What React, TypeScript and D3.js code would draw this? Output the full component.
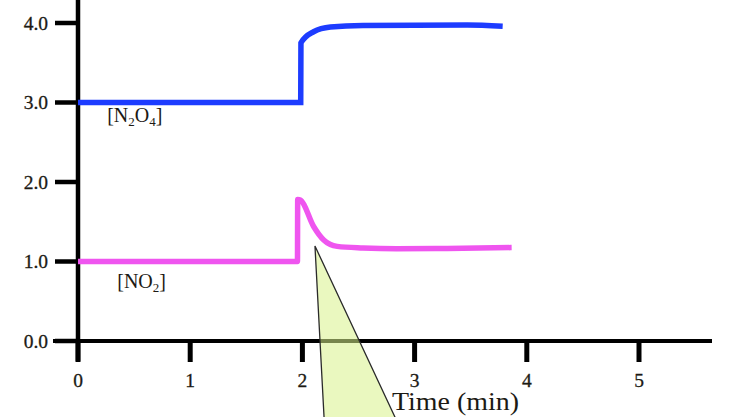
import React from "react";
import * as d3 from "d3";

const W = 741;
const H = 417;

// x ticks (minutes) and y ticks (concentration)
const xTicks = [0, 1, 2, 3, 4, 5];
const yTicks = [0, 1, 2, 3, 4];
const yTickLabels = ["0.0", "1.0", "2.0", "3.0", "4.0"];

// [N2O4] curve
const n2o4Time = [0, 1.985, 1.987, 2.1, 2.25, 2.54, 3.47, 3.785];
const n2o4Conc = [3.0, 3.0, 3.75, 3.89, 3.95, 3.97, 3.975, 3.96];

// [NO2] curve
const no2Time = [0, 1.956, 1.958, 1.985, 2.1, 2.19, 2.31, 2.54, 2.84, 3.29, 3.865];
const no2Conc = [1.0, 1.0, 1.78, 1.77, 1.44, 1.27, 1.19, 1.17, 1.16, 1.165, 1.175];

// annotation triangle (data coords)
const triTime = [2.112, 2.199, 2.879];
const triConc = [1.195, -1.12, -1.12];

const textColor = "#1c1a14";
const serif = "'Liberation Serif', 'DejaVu Serif', serif";

export default function App() {
  const x = d3.scaleLinear().domain([0, 5]).range([78, 639]);
  const y = d3.scaleLinear().domain([0, 4]).range([341, 23]);

  const line = d3
    .line<[number, number]>()
    .x((d) => x(d[0]))
    .y((d) => y(d[1]))
    .curve(d3.curveMonotoneX);

  const n2o4 = n2o4Time.map((t, i) => [t, n2o4Conc[i]] as [number, number]);
  const no2 = no2Time.map((t, i) => [t, no2Conc[i]] as [number, number]);
  const tri = triTime.map((t, i) => [x(t), y(triConc[i])]);
  const triPath = "M" + tri.map((p) => p.join(",")).join("L") + "Z";

  const x0 = x(0);
  const y0 = y(0);

  return (
    <svg
      width={W}
      height={H}
      style={{ position: "absolute", left: 0, top: 0, background: "#fff" }}
    >
      <rect width={W} height={H} fill="#fff" />
      {/* axes */}
      <line x1={x0} x2={x0} y1={0} y2={y0 + 20} stroke="#000" strokeWidth={4.5} />
      <line x1={x0 - 25} x2={712} y1={y0} y2={y0} stroke="#000" strokeWidth={4} />
      {yTicks.map((v, i) => (
        <g key={"y" + v}>
          <line x1={x0 - 23} x2={x0} y1={y(v)} y2={y(v)} stroke="#000" strokeWidth={4.5} />
          <text
            x={48}
            y={y(v)}
            dy="0.35em"
            textAnchor="end"
            fontFamily={serif}
            fontSize={19.5}
            fill={textColor}
            stroke={textColor}
            strokeWidth={0.3}
          >
            {yTickLabels[i]}
          </text>
        </g>
      ))}
      {xTicks.map((v) => (
        <g key={"x" + v}>
          <line x1={x(v)} x2={x(v)} y1={y0} y2={y0 + 21} stroke="#000" strokeWidth={5} />
          <text
            x={x(v)}
            y={380}
            dy="0.35em"
            textAnchor="middle"
            fontFamily={serif}
            fontSize={19.5}
            fill={textColor}
            stroke={textColor}
            strokeWidth={0.3}
          >
            {v}
          </text>
        </g>
      ))}
      <text
        x={392}
        y={410}
        fontFamily={serif}
        fontSize={25}
        fill={textColor}
        textLength={127}
        lengthAdjust="spacingAndGlyphs"
      >
        Time (min)
      </text>

      {/* curves */}
      <path
        d={line(n2o4) || ""}
        fill="none"
        stroke="#1d3cff"
        strokeWidth={5.5}
        strokeLinejoin="miter"
      />
      <path
        d={line(no2) || ""}
        fill="none"
        stroke="#ef55ef"
        strokeWidth={5.5}
        strokeLinejoin="miter"
      />

      {/* curve labels */}
      <text x={x(0.26)} y={y(2.75)} fontFamily={serif} fontSize={20} fill={textColor}>
        [N
        <tspan fontSize={13} dy={4}>2</tspan>
        <tspan dy={-4}>O</tspan>
        <tspan fontSize={13} dy={4}>4</tspan>
        <tspan dy={-4}>]</tspan>
      </text>
      <text x={x(0.35)} y={y(0.67)} fontFamily={serif} fontSize={20} fill={textColor}>
        [NO
        <tspan fontSize={13} dy={4}>2</tspan>
        <tspan dy={-4}>]</tspan>
      </text>

      {/* annotation triangle */}
      <path
        d={triPath}
        fill="#d8f28a"
        fillOpacity={0.55}
        stroke="#2a2a2a"
        strokeWidth={1.3}
      />
    </svg>
  );
}
